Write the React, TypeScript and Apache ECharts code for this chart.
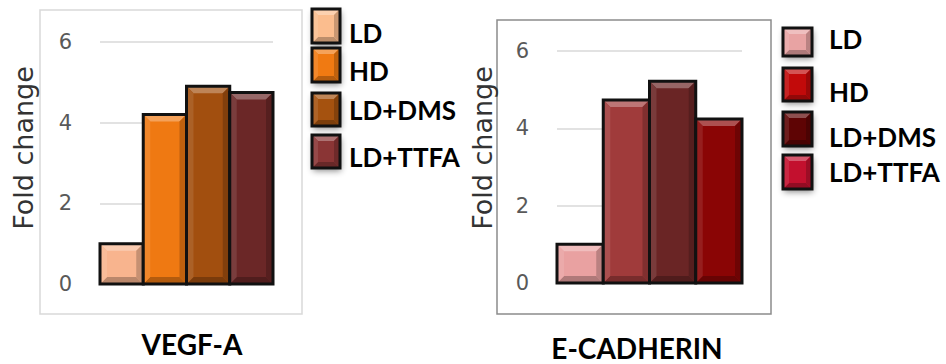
import React, { useEffect, useRef } from "react";
import * as echarts from "echarts";

const groups = ["LD", "HD", "LD+DMS", "LD+TTFA"];
const genes = ["VEGF-A", "E-CADHERIN"];
const vegfValues = [1.0, 4.2, 4.9, 4.75];
const ecadValues = [1.0, 4.73, 5.22, 4.24];
const yMin = 0;
const yMax = 6;
const yInterval = 2;

const vegfBarColors = ["#f8b48e", "#ef7912", "#a24f0f", "#6b2727"];
const vegfLegendColors = ["#fbbd8e", "#f07a12", "#a5520f", "#8a3535"];
const ecadBarColors = ["#e9a1a1", "#a03b3b", "#6a2525", "#8a0505"];
const ecadLegendColors = ["#e8a3a3", "#c20a0a", "#5e0404", "#c3102e"];

function shade(hex: string, t: number) {
  const n = parseInt(hex.slice(1), 16);
  const r = n >> 16, g = (n >> 8) & 255, b = n & 255;
  const f = (c: number) => (t > 0 ? Math.round(c + (255 - c) * t) : Math.round(c * (1 + t)));
  return `rgb(${f(r)},${f(g)},${f(b)})`;
}

function bevel(x: number, y: number, w: number, h: number, color: string, bs: number, lw: number) {
  const b = Math.max(0, Math.min(bs, w / 2 - 1, h / 2 - 1));
  const x1 = x + w, y1 = y + h;
  return [
    { type: "rect", shape: { x, y, width: w, height: h }, style: { fill: color } },
    { type: "polygon", shape: { points: [[x, y], [x1, y], [x1 - b, y + b], [x + b, y + b]] }, style: { fill: shade(color, 0.3) } },
    { type: "polygon", shape: { points: [[x, y1], [x1, y1], [x1 - b, y1 - b], [x + b, y1 - b]] }, style: { fill: shade(color, -0.25) } },
    { type: "polygon", shape: { points: [[x, y], [x + b, y + b], [x + b, y1 - b], [x, y1]] }, style: { fill: shade(color, 0.1) } },
    { type: "polygon", shape: { points: [[x1, y], [x1 - b, y + b], [x1 - b, y1 - b], [x1, y1]] }, style: { fill: shade(color, -0.2) } },
    { type: "rect", shape: { x, y, width: w, height: h }, style: { fill: "none", stroke: "#111", lineWidth: lw } },
  ];
}

function makeSeries(chartIdx: number, values: number[], colors: string[]) {
  return values.map((v, j) => ({
    type: "custom",
    name: groups[j],
    xAxisIndex: chartIdx,
    yAxisIndex: chartIdx,
    encode: { x: 0, y: 1 },
    data: [[0, v]],
    renderItem: (params: any, api: any) => {
      const cat = api.value(0);
      const val = api.value(1);
      const base = api.coord([cat, 0]);
      const top = api.coord([cat, val]);
      const band = api.size([1, 0])[0];
      const w = band / groups.length;
      const x0 = base[0] - band / 2 + j * w;
      return {
        type: "group",
        children: bevel(x0, top[1], w, base[1] - top[1], colors[j], 7, 3),
      };
    },
  }));
}

function legendGraphic(colors: string[], mx: number, ys: number[][], tx: number, tys: number[], mw: number) {
  const els: any[] = [];
  groups.forEach((g, i) => {
    const [y0, h] = ys[i];
    els.push({
      type: "rect",
      shape: { x: mx, y: y0, width: mw, height: h },
      style: { fill: "#fff", shadowBlur: 6, shadowOffsetX: 1, shadowOffsetY: 3, shadowColor: "rgba(0,0,0,0.45)" },
    });
    els.push({ type: "group", children: bevel(mx, y0, mw, h, colors[i], 6, 3) });
    els.push({
      type: "text",
      x: tx,
      y: tys[i],
      style: { text: g, fill: "#000", font: "bold 26px Lato", verticalAlign: "middle", align: "left" },
    });
  });
  return els;
}

export default function App() {
  const ref = useRef<HTMLDivElement>(null);
  useEffect(() => {
    if (!ref.current) return;
    const chart = echarts.init(ref.current, undefined, { renderer: "svg" });
    const yAxisCommon = {
      type: "value",
      min: yMin,
      max: yMax,
      interval: yInterval,
      axisLine: { show: false },
      axisTick: { show: false },
      axisLabel: { color: "#595959", fontSize: 21, fontFamily: "DejaVu Sans", margin: 28 },
      splitLine: { lineStyle: { color: "#d9d9d9", width: 1.5 } },
    };
    const foldText = (x: number, y: number) => ({
      type: "text",
      x,
      y,
      rotation: Math.PI / 2,
      style: {
        text: "Fold change",
        fill: "#333333",
        font: "normal 27px 'DejaVu Sans'",
        align: "center",
        verticalAlign: "middle",
      },
    });
    chart.setOption({
      animation: false,
      grid: [
        { left: 100, top: 42, width: 173, height: 242 },
        { left: 557, top: 51, width: 185, height: 232 },
      ],
      xAxis: [0, 1].map((i) => ({
        type: "category",
        gridIndex: i,
        data: [genes[i]],
        axisLine: { show: false },
        axisTick: { show: false },
        axisLabel: {
          color: "#000",
          fontWeight: "bold",
          fontFamily: "Lato",
          fontSize: 28,
          margin: i === 0 ? 46 : 51,
          padding: i === 0 ? [0, 0, 0, 11] : [0, 25, 0, 0],
        },
      })),
      yAxis: [
        { ...yAxisCommon, gridIndex: 0 },
        { ...yAxisCommon, gridIndex: 1 },
      ],
      graphic: [
        { type: "rect", z: -10, shape: { x: 40, y: 10, width: 262, height: 304 }, style: { fill: "none", stroke: "#d9d9d9", lineWidth: 1.5 } },
        { type: "rect", z: -10, shape: { x: 497, y: 20, width: 274, height: 294 }, style: { fill: "none", stroke: "#8c8c8c", lineWidth: 1.5 } },
        foldText(23, 148),
        foldText(482, 148),
        ...legendGraphic(vegfLegendColors, 312, [[9, 34], [48, 34], [93, 33], [135, 33]], 349, [33, 71, 110, 157], 28),
        ...legendGraphic(ecadLegendColors, 783, [[28, 28], [68, 33], [112, 34], [155, 34]], 829, [39, 92, 137, 172], 29),
      ],
      series: [
        ...makeSeries(0, vegfValues, vegfBarColors),
        ...makeSeries(1, ecadValues, ecadBarColors),
      ],
    });
    return () => chart.dispose();
  }, []);
  return <div ref={ref} style={{ position: "fixed", left: 0, top: 0, width: 946, height: 364, background: "#fff" }} />;
}
